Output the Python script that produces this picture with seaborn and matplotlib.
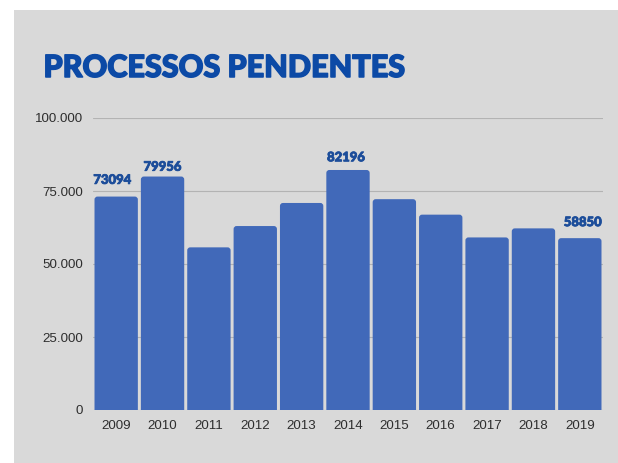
import matplotlib
matplotlib.use("Agg")
import matplotlib.pyplot as plt
import matplotlib.patheffects as pe
from matplotlib.patches import Rectangle, FancyBboxPatch
from matplotlib.ticker import FuncFormatter
import seaborn as sns
import pandas as pd

years = ["2009", "2010", "2011", "2012", "2013", "2014", "2015", "2016", "2017", "2018", "2019"]
pending = [73094, 79956, 55700, 63000, 70900, 82196, 72200, 66900, 59100, 62200, 58850]
labelled_years = ["2009", "2010", "2014", "2019"]
yticks = [0, 25000, 50000, 75000, 100000]

title_text = "PROCESSOS PENDENTES"
bar_color = "#4169b9"
title_color = "#0c4aa6"
label_color = "#1c4d9a"
panel_color = "#d9d9d9"

# offsets (in pixels) of each value label relative to the top centre of its bar
label_offsets_px = {"2009": (-4, 10.7), "2010": (0, 3.8), "2014": (-2, 6.7), "2019": (3, 10)}

df = pd.DataFrame({"ano": years, "pendentes": pending})

sns.set_theme(style="white")
plt.rcParams["font.family"] = ["Liberation Sans", "DejaVu Sans"]

W, H = 618, 463
fig = plt.figure(figsize=(W / 100, H / 100), dpi=100, facecolor="white")
PT = 72 / 100  # points per pixel

# grey panel behind the chart (white margin on top and left)
fig.patches.append(Rectangle((14 / W, 0), 1 - 14 / W, 1 - 10 / H,
                             transform=fig.transFigure, facecolor=panel_color,
                             edgecolor="none", zorder=-10))

ax = fig.add_axes([93 / W, 1 - 410 / H, (603 - 93) / W, (410 - 118) / H])
ax.set_facecolor("none")

sns.barplot(data=df, x="ano", y="pendentes", color=bar_color, width=0.935,
            saturation=1, ax=ax, zorder=3)

ax.set_ylim(0, 100000)
ax.set_xlim(-0.5, len(years) - 0.5)

# round the top corners of each bar
px_per_x = (603 - 93) / len(years)
px_per_y = (410 - 118) / 100000
radius_px = 3.0
for p in list(ax.patches):
    x0, w, h = p.get_x(), p.get_width(), p.get_height()
    r = radius_px / px_per_x
    aspect = (radius_px / px_per_y) / r
    extra = radius_px / px_per_y
    rb = FancyBboxPatch((x0, -extra), w, h + extra,
                        boxstyle=f"round,pad=0,rounding_size={r}",
                        mutation_aspect=aspect,
                        facecolor=bar_color, edgecolor="none", zorder=3)
    p.remove()
    ax.add_patch(rb)

# value labels on selected bars
for i, (yr, v) in enumerate(zip(years, pending)):
    if yr in labelled_years:
        dx, dy = label_offsets_px[yr]
        ax.annotate(str(v), xy=(i, v), xytext=(dx * PT, dy * PT),
                    textcoords="offset points", ha="center", va="bottom",
                    fontsize=9.4, fontweight="black", color=label_color,
                    family=["Lato", "DejaVu Sans"], annotation_clip=False,
                    path_effects=[pe.withStroke(linewidth=0.6, foreground=label_color)])

ax.set_yticks(yticks)
ax.yaxis.set_major_formatter(FuncFormatter(lambda v, _: f"{int(v):,}".replace(",", ".")))
ax.grid(axis="y", color="#b3b3b3", linewidth=0.8, zorder=0)
ax.grid(axis="x", visible=False)
for s in ax.spines.values():
    s.set_visible(False)
ax.tick_params(axis="both", length=0, labelsize=9.6, colors="#2e2e2e")
ax.tick_params(axis="y", pad=7)
ax.tick_params(axis="x", pad=7)
ax.set_xlabel("")
ax.set_ylabel("")

fig.text(43.5 / W, 1 - 77 / H, title_text, ha="left", va="baseline",
         fontsize=22, fontweight="black", color=title_color,
         family=["Lato", "DejaVu Sans"],
         path_effects=[pe.withStroke(linewidth=1.1, foreground=title_color)])

fig.savefig("out.png", dpi=100, facecolor="white")
